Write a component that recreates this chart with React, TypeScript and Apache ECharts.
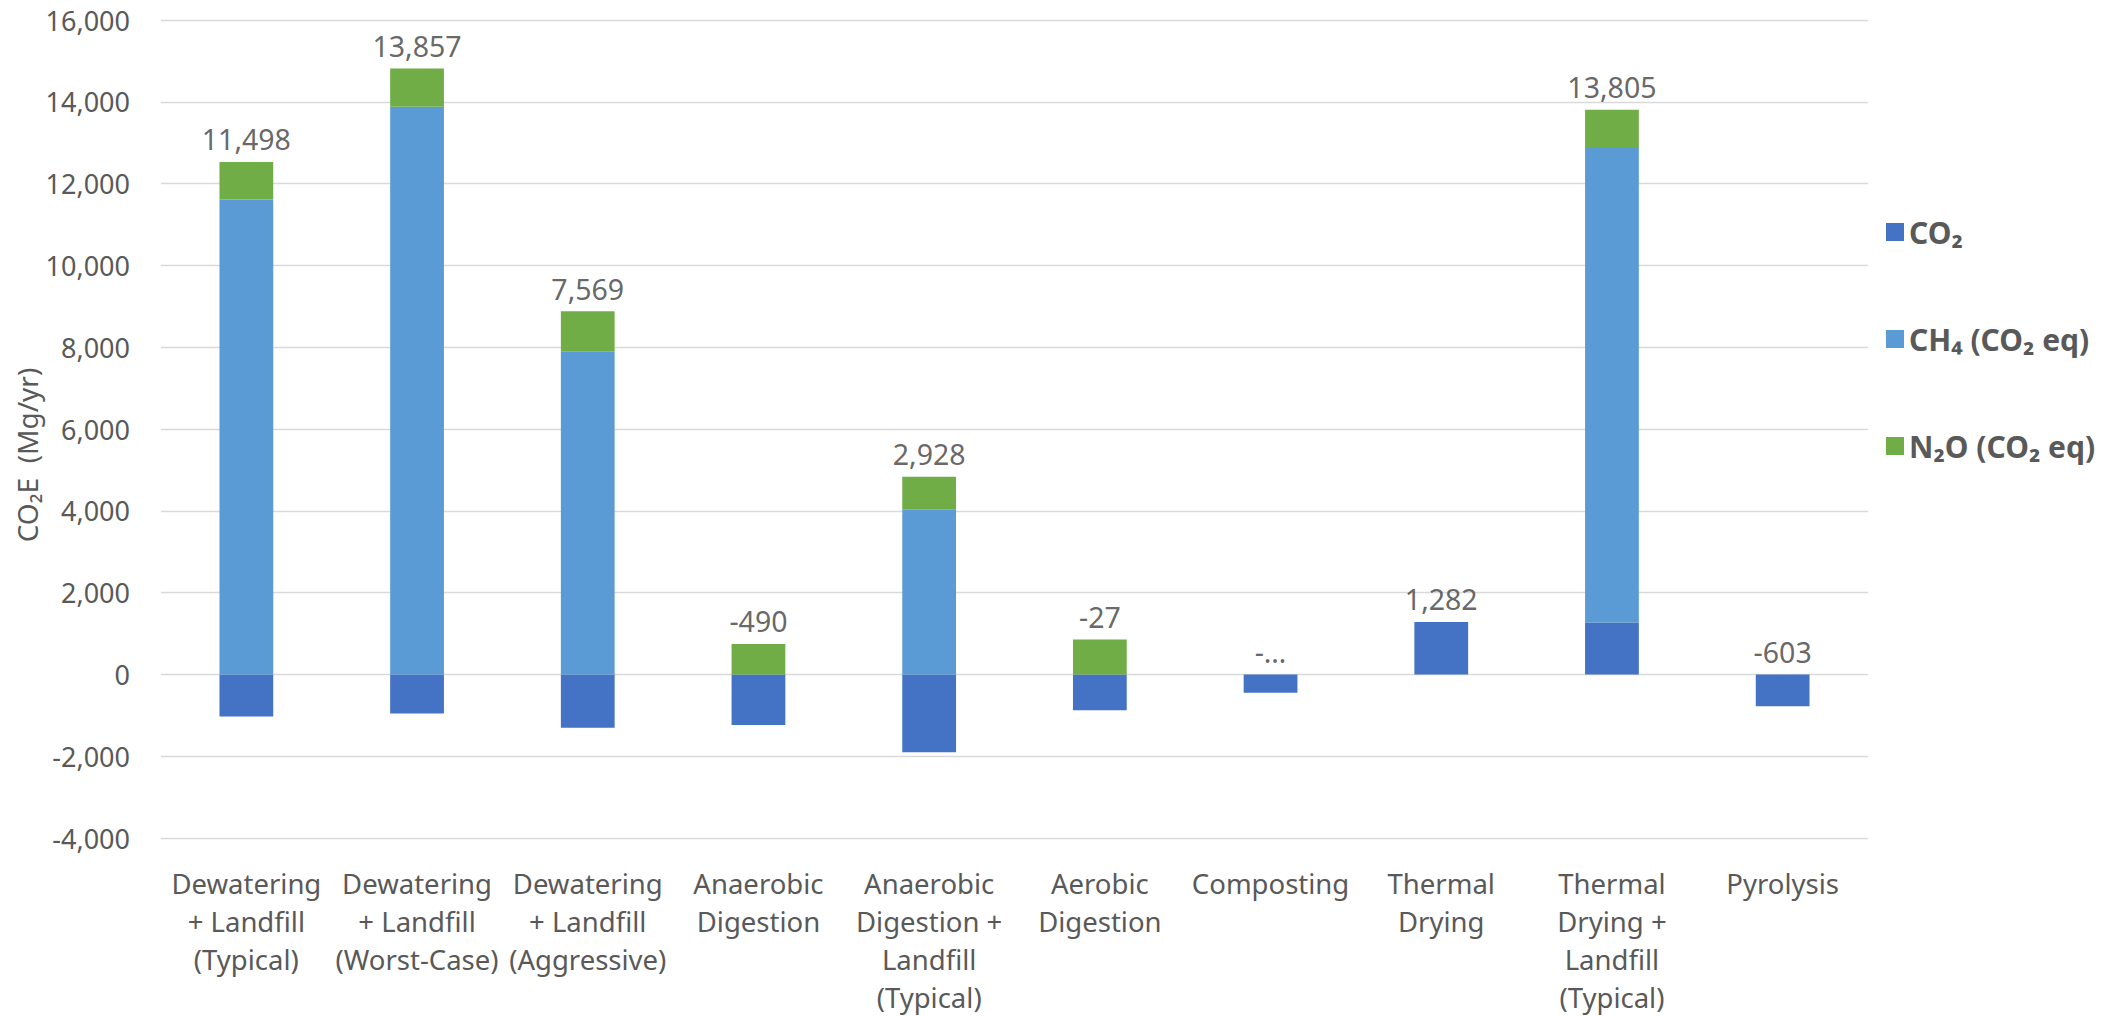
import React, { useEffect, useRef } from "react";
import * as echarts from "echarts";

// Biosolids management options
const categories = [
  "Dewatering\n+ Landfill\n(Typical)",
  "Dewatering\n+ Landfill\n(Worst-Case)",
  "Dewatering\n+ Landfill\n(Aggressive)",
  "Anaerobic\nDigestion",
  "Anaerobic\nDigestion +\nLandfill\n(Typical)",
  "Aerobic\nDigestion",
  "Composting",
  "Thermal\nDrying",
  "Thermal\nDrying +\nLandfill\n(Typical)",
  "Pyrolysis",
];

// Emissions by gas, Mg/yr CO2E
const co2 = [-1032, -959, -1307, -1235, -1902, -879, -451, 1282, 1260, -776];
const ch4 = [11612, 13880, 7900, 0, 4040, 0, 0, 0, 11610, 0];
const n2o = [918, 936, 976, 745, 790, 852, 0, 0, 935, 0];

// Net total printed above each column (null = truncated label)
const netTotals: (number | null)[] = [11498, 13857, 7569, -490, 2928, -27, null, 1282, 13805, -603];

const seriesNames = ["CO₂", "CH₄ (CO₂ eq)", "N₂O (CO₂ eq)"];
const seriesColors = ["#4472C4", "#5B9BD5", "#70AD47"];

const yMin = -4000;
const yMax = 16000;
const yStep = 2000;

const FONT = "'Noto Sans', 'Open Sans', sans-serif";

const fmt = (v: number) => v.toLocaleString("en-US");

export default function App() {
  const ref = useRef<HTMLDivElement>(null);

  useEffect(() => {
    if (!ref.current) return;
    const chart = echarts.init(ref.current, undefined, { renderer: "svg" });

    // top of the positive part of each stack, where the net label sits
    const labelAnchor = categories.map((_, i) =>
      [co2[i], ch4[i], n2o[i]].filter((v) => v > 0).reduce((a, b) => a + b, 0)
    );

    const barSeries = [co2, ch4, n2o].map((values, k) => ({
      name: seriesNames[k],
      type: "bar",
      stack: "total",
      barWidth: "31.5%",
      data: values,
      itemStyle: { color: seriesColors[k] },
      z: 2,
    }));

    chart.setOption({
      animation: false,
      backgroundColor: "#ffffff",
      textStyle: { fontFamily: FONT },
      grid: { left: 161, right: 235, top: 20, bottom: 176, containLabel: false },
      legend: {
        data: seriesNames,
        orient: "vertical",
        left: 1881,
        top: 210,
        itemWidth: 18,
        itemHeight: 18,
        itemGap: 73,
        itemStyle: { borderWidth: 0 },
        icon: "rect",
        textStyle: {
          fontFamily: FONT,
          fontSize: 30,
          fontWeight: "bold",
          color: "#595959",
          lineHeight: 34,
          padding: [0, 0, 0, 0],
        },
      },
      xAxis: {
        type: "category",
        data: categories,
        axisLine: { show: false },
        axisTick: { show: false },
        axisLabel: {
          interval: 0,
          margin: 26,
          fontFamily: FONT,
          fontSize: 27.5,
          lineHeight: 38,
          color: "#595959",
        },
      },
      yAxis: {
        type: "value",
        min: yMin,
        max: yMax,
        interval: yStep,
        axisLine: { show: false },
        axisTick: { show: false },
        splitLine: { lineStyle: { color: "#D9D9D9", width: 1.3 } },
        axisLabel: {
          margin: 31,
          fontFamily: FONT,
          fontSize: 27,
          color: "#595959",
          formatter: (v: number) => fmt(v),
        },
      },
      graphic: [
        {
          type: "text",
          x: 27,
          y: 455,
          rotation: Math.PI / 2,
          style: {
            text: "CO₂E  (Mg/yr)",
            fontFamily: FONT,
            fontSize: 28,
            fill: "#595959",
            textAlign: "center",
            textVerticalAlign: "middle",
          },
        },
      ],
      series: [
        ...barSeries,
        {
          name: "Net",
          type: "scatter",
          symbolSize: 0,
          data: labelAnchor.map((v, i) => [i, v]),
          silent: true,
          z: 3,
          label: {
            show: true,
            position: "top",
            distance: 8,
            fontFamily: FONT,
            fontSize: 28.5,
            color: "#404040",
            formatter: (p: any) => {
              const t = netTotals[p.dataIndex];
              return t === null ? "-…" : fmt(t);
            },
          },
        },
      ],
    });

    return () => chart.dispose();
  }, []);

  return (
    <div
      ref={ref}
      style={{ position: "fixed", left: 0, top: 0, width: 2103, height: 1016, background: "#fff" }}
    />
  );
}
